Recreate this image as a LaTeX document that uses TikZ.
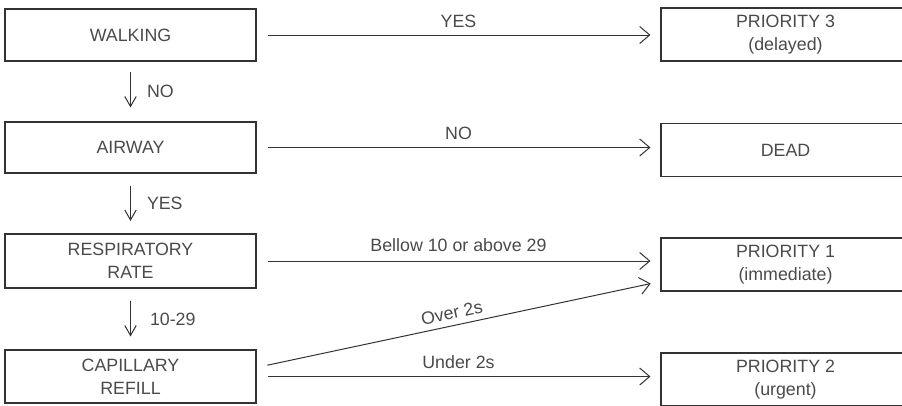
\documentclass[tikz,border=0pt]{standalone}
\usepackage{fontspec}
\setmainfont{Liberation Sans}
\usetikzlibrary{arrows.meta}
\definecolor{ink}{HTML}{333333}
\definecolor{txt}{HTML}{4A4A4A}
\tikzset{
  box/.style={draw=ink, line width=1.1pt, rectangle, inner sep=0pt, text=txt,
    align=center, font=\fontsize{17.8}{22.6}\selectfont},
  lbox/.style={box, minimum width=251pt},
  rbox/.style={box, minimum width=249pt, minimum height=53pt},
  harr/.style={draw=ink, line width=1pt, -{Straight Barb[length=10pt,width=17pt,line width=1pt]},
    shorten <=11pt, shorten >=10pt},
  varr/.style={draw=ink, line width=1pt, -{Straight Barb[length=10pt,width=11.5pt,line width=1pt]}},
  lab/.style={text=txt, inner sep=0pt, font=\fontsize{17.8}{20}\selectfont},
}
\begin{document}
\begin{tikzpicture}[x=1pt,y=-1pt]
\useasboundingbox (0,0) rectangle (902,405);
% left column
\node[lbox, minimum height=52pt] (walk) at (130.5,35) {WALKING};
\node[lbox, minimum height=51pt] (air) at (130.5,147.5) {AIRWAY};
\node[lbox, minimum height=54pt] (resp) at (130.5,261) {RESPIRATORY\\RATE};
\node[lbox, minimum height=53pt] (cap) at (130.5,376.5) {CAPILLARY\\REFILL};
% right column
\node[rbox] (p3) at (785.5,34.5) {PRIORITY 3\\(delayed)};
\node[rbox] (dead) at (785.5,150) {DEAD};
\node[rbox] (p1) at (785.5,264.5) {PRIORITY 1\\(immediate)};
\node[rbox] (p2) at (785.5,379.5) {PRIORITY 2\\(urgent)};
% vertical arrows
\draw[varr, shorten <=10pt, shorten >=14pt] (walk.south) -- (air.north)
  node[lab, midway, right=16pt] {NO};
\draw[varr, shorten <=12pt, shorten >=12.5pt] (air.south) -- (resp.north)
  node[lab, midway, right=16pt] {YES};
\draw[varr, shorten <=12pt, shorten >=13pt] (resp.south) -- (cap.north)
  node[lab, midway, right=19pt] {10-29};
% horizontal arrows
\draw[harr] (walk.east) -- (walk.east -| p3.west)
  node[lab, midway, anchor=base, yshift=8pt] {YES};
\draw[harr] (air.east) -- (air.east -| dead.west)
  node[lab, midway, anchor=base, yshift=8.5pt] {NO};
\draw[harr] (resp.east) -- (resp.east -| p1.west)
  node[lab, midway, anchor=base, yshift=9.5pt] {Bellow 10 or above 29};
\draw[harr] ([yshift=9pt]cap.east) -- ([yshift=-17pt]p1.west)
  node[lab, pos=0.49, sloped, above=6pt] {Over 2s};
\draw[harr] (cap.east) -- (cap.east -| p2.west)
  node[lab, midway, anchor=base, yshift=8pt] {Under 2s};
\end{tikzpicture}
\end{document}
